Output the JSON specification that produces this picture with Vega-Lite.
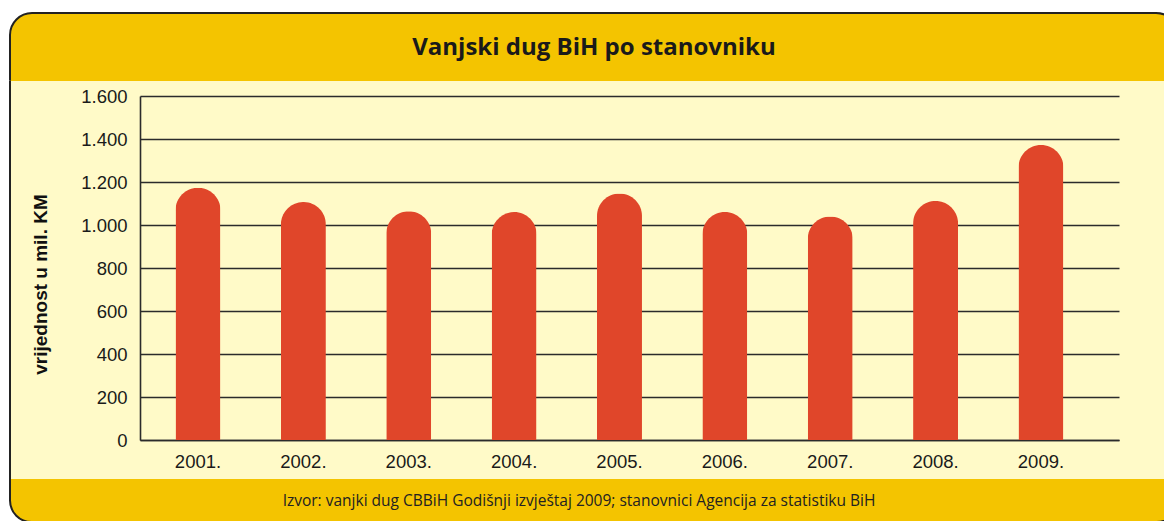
{
  "$schema": "https://vega.github.io/schema/vega-lite/v6.json",
  "background": "white",
  "padding": {"left": 9, "top": 12, "right": 0, "bottom": 0},
  "spacing": 0,
  "bounds": "flush",
  "config": {"view": {"stroke": null}},
  "vconcat": [
    {
      "width": 1168,
      "height": 68,
      "view": {"stroke": null, "fill": null},
      "layer": [
        {
          "data": {"values": [{"k": 1}]},
          "mark": {"type": "rect", "fill": "#F4C400", "stroke": "#222222", "strokeWidth": 2, "cornerRadiusTopLeft": 22, "cornerRadiusTopRight": 22, "strokeDash": [1204.6, 1168, 80.6, 3000]},
          "encoding": {}
        },
        {
          "data": {"values": [{"t": "Vanjski dug BiH po stanovniku"}]},
          "mark": {"type": "text", "font": "Open Sans", "fontWeight": "bold", "fontSize": 24, "color": "#1a1a1a", "baseline": "middle", "align": "center", "dy": 1},
          "encoding": {"text": {"field": "t", "type": "nominal"}}
        }
      ]
    },
    {
      "width": 1168,
      "height": 398,
      "view": {"fill": "#FFFAC8", "stroke": "#222222", "strokeWidth": 2, "strokeDash": [0, 1168, 398, 1168, 398, 0]},
      "data": {
        "values": [
          {"year": "2001.", "value": 1173},
          {"year": "2002.", "value": 1107},
          {"year": "2003.", "value": 1064},
          {"year": "2004.", "value": 1060},
          {"year": "2005.", "value": 1146},
          {"year": "2006.", "value": 1060},
          {"year": "2007.", "value": 1039},
          {"year": "2008.", "value": 1112},
          {"year": "2009.", "value": 1372}
        ]
      },
      "mark": {"type": "bar", "color": "#E0462A", "cornerRadiusTopLeft": 22.5, "cornerRadiusTopRight": 22.5},
      "encoding": {
        "x": {
          "field": "year", "type": "nominal", "sort": null,
          "scale": {"range": [130, 1109], "paddingInner": 0.573, "paddingOuter": 0.432, "align": 0.39},
          "axis": {"title": null, "offset": -39, "domain": true, "domainColor": "#2b2b2b", "domainWidth": 1.6, "ticks": false, "grid": false, "labelAngle": 0, "labelPadding": 12, "labelFont": "Liberation Sans", "labelFontSize": 18.5, "labelColor": "#1a1a1a"}
        },
        "y": {
          "field": "value", "type": "quantitative",
          "scale": {"domain": [0, 1600], "range": [359, 15], "nice": false, "zero": true},
          "axis": {
            "title": "vrijednost u mil. KM", "offset": -130,
            "values": [0, 200, 400, 600, 800, 1000, 1200, 1400, 1600],
            "labelExpr": "replace(format(datum.value, ','), ',', '.')",
            "grid": true, "gridColor": "#2b2b2b", "gridWidth": 1.6,
            "domain": true, "domainColor": "#2b2b2b", "domainWidth": 1.6,
            "ticks": false, "labelPadding": 13,
            "labelFont": "Liberation Sans", "labelFontSize": 18.5, "labelColor": "#1a1a1a",
            "titleFont": "Liberation Sans", "titleFontSize": 19, "titleFontWeight": "bold", "titleColor": "#111111",
            "titleX": -90, "titleY": 203, "titleAngle": 270, "titleBaseline": "bottom", "titleAlign": "center"
          }
        }
      }
    },
    {
      "width": 1168,
      "height": 43,
      "view": {"stroke": null, "fill": null},
      "layer": [
        {
          "data": {"values": [{"k": 1}]},
          "mark": {"type": "rect", "fill": "#F4C400", "stroke": "#222222", "strokeWidth": 2, "cornerRadiusBottomLeft": 22, "cornerRadiusBottomRight": 22, "strokeDash": [0, 1168, 3000, 0]},
          "encoding": {}
        },
        {
          "data": {"values": [{"t": "Izvor: vanjki dug CBBiH Godišnji izvještaj 2009; stanovnici Agencija za statistiku BiH"}]},
          "mark": {"type": "text", "font": "Open Sans", "fontSize": 15.5, "color": "#222222", "baseline": "middle", "align": "center", "dx": -15},
          "encoding": {"text": {"field": "t", "type": "nominal"}}
        }
      ]
    }
  ]
}
